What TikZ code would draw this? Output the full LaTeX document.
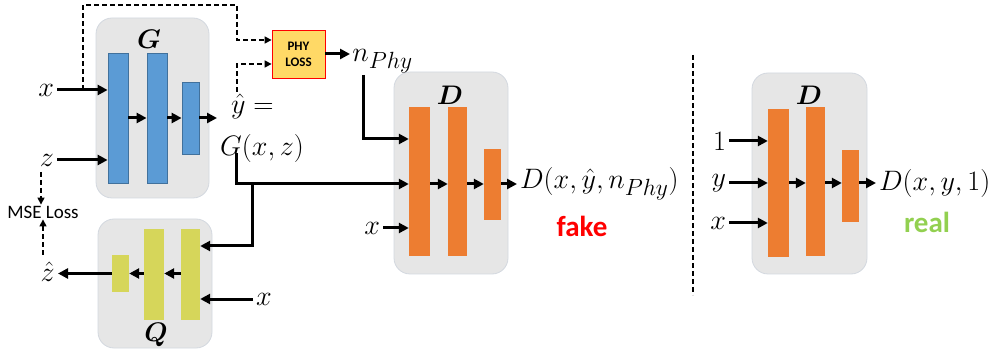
\documentclass[tikz,border=0pt]{standalone}
\usepackage{fontspec}
\usepackage{amsmath}
\newfontfamily\calib{Carlito}
\usetikzlibrary{arrows.meta}
\definecolor{gblue}{HTML}{5B9BD5}
\definecolor{gblueD}{HTML}{41719C}
\definecolor{dorange}{HTML}{ED7D31}
\definecolor{qyellow}{HTML}{D6D65A}
\definecolor{panelgray}{HTML}{E6E6E6}
\definecolor{paneledge}{HTML}{D3D8DF}
\definecolor{phyfill}{HTML}{FFD966}
\definecolor{realgreen}{HTML}{92D050}
\begin{document}
\begin{tikzpicture}[x=1pt,y=-1pt,
  panel/.style={draw=paneledge, fill=panelgray, rounded corners=16pt, line width=0.8pt, inner sep=0pt},
  barsz/.style 2 args={inner sep=0pt, minimum width=#1, minimum height=#2},
  gbar/.style 2 args={barsz={#1}{#2}, fill=gblue, draw=gblueD, line width=0.8pt},
  dbar/.style 2 args={barsz={#1}{#2}, fill=dorange, draw=none},
  qbar/.style 2 args={barsz={#1}{#2}, fill=qyellow, draw=none},
  arr/.style={line width=3pt, -{Triangle[length=10pt,width=10pt]}},
  dsh/.style={line width=1.5pt, dash pattern=on 5pt off 3pt, -{Triangle[length=7pt,width=7pt]}},
  mathlbl/.style={font=\fontsize{24.88}{30}\selectfont, scale=1.13, inner sep=2.5pt},
  ttl/.style={font=\fontsize{24.88}{30}\selectfont, scale=1.08, inner sep=0pt},
  calibtxt/.style={font=\calib\fontsize{19}{22}\selectfont, inner sep=1pt},
  tagtxt/.style={font=\calib\bfseries\fontsize{29}{32}\selectfont, inner sep=0pt},
]
\useasboundingbox (0,0) rectangle (1000,352);

% ---------- panels ----------
\node[panel, minimum width=113pt, minimum height=180pt] (gbox) at (152.5,108) {};
\node[panel, minimum width=114pt, minimum height=129pt] (qbox) at (155,283.5) {};
\node[panel, minimum width=114pt, minimum height=202pt] (dbox) at (451,173) {};
\node[panel, minimum width=115pt, minimum height=201pt] (ebox) at (809.5,173.5) {};

\node[ttl] (gl) at (149,39) {$\boldsymbol{G}$};
\node[ttl] (ql) at (156,335) {$\boldsymbol{Q}$};
\node[ttl] (dl) at (450,95) {$\boldsymbol{D}$};
\node[ttl] (el) at (809,95) {$\boldsymbol{D}$};

% ---------- bars ----------
\node[gbar={20pt}{130pt}] (g1) at (118,118) {};
\node[gbar={20pt}{130pt}] (g2) at (157,118) {};
\node[gbar={17pt}{72pt}] (g3) at (190.5,118) {};

\node[qbar={19pt}{91pt}] (q1) at (190.5,274.5) {};
\node[qbar={20pt}{91pt}] (q2) at (154,274.5) {};
\node[qbar={17pt}{37pt}] (q3) at (120.5,273.5) {};

\node[dbar={21pt}{149pt}] (d1) at (419.5,182) {};
\node[dbar={19pt}{149pt}] (d2) at (457.5,182) {};
\node[dbar={17pt}{71pt}] (d3) at (492.5,184.5) {};

\node[dbar={21pt}{148pt}] (e1) at (778.5,183) {};
\node[dbar={19pt}{149pt}] (e2) at (815.5,181.5) {};
\node[dbar={17pt}{72pt}] (e3) at (850.5,186) {};

% ---------- G ----------
\node[mathlbl, anchor=east] (xg) at (57,90) {$x$};
\node[mathlbl, anchor=east] (zg) at (57,160) {$z$};
\draw[arr] (xg.east) -- (xg.east -| g1.west);
\draw[arr] (zg.east) -- (zg.east -| g1.west);
\draw[arr] (g1.east) -- (g2.west);
\draw[arr] (g2.east) -- (g3.west);
\coordinate (gout) at (217,118);
\draw[arr] (g3.east) -- (gout);

\node[mathlbl, anchor=west, inner sep=0pt] (yh) at (231,106) {$\hat{y} =$};
\node[mathlbl, anchor=west, inner sep=0pt] (gxz) at (220,148) {$G(x,z)$};

% ---------- PHY loss ----------
\node[draw=red, fill=phyfill, line width=0.8pt, minimum width=53pt, minimum height=48pt,
      align=center, inner sep=0pt, font=\calib\bfseries\fontsize{13}{16}\selectfont] (phy) at (298.5,54) {PHY\\LOSS};
\node[mathlbl, anchor=base west, inner sep=2pt] (nphy) at (350,62) {$n_{Phy}$};
\draw[arr] (phy.east) -- (phy.east -| nphy.west);

\coordinate (xs) at (83,90);
\draw[dsh] (xs) |- (237,5) |- (phy.west |- 0,40);
\coordinate (ys) at (237,92);
\draw[dsh] (ys) |- (phy.west |- 0,64);

% ---------- MSE ----------
\node[calibtxt] (mse) at (43,212) {MSE Loss};
\node[mathlbl, anchor=east, inner sep=0pt] (zh) at (55,272) {$\hat{z}$};
\draw[dsh] (41,172) -- (mse.north -| 41,0);
\draw[dsh] (43,255) -- (mse.south -| 43,0);

% ---------- Q ----------
\draw[arr] (q3.west) -- (q3.west -| 58,0);
\draw[arr] (q1.west |- 0,273.5) -- (q2.east |- 0,273.5);
\draw[arr] (q2.west |- 0,273.5) -- (q3.east);
\node[mathlbl, anchor=west] (xq) at (253,299) {$x$};
\draw[arr] (xq.west) -- (xq.west -| q1.east);

% ---------- D (fake) ----------
\coordinate (s1) at (236,153);
\draw[arr] (s1) |- (d1.west |- 0,184);
\coordinate (br) at (252,184);
\draw[arr] (br) |- (q1.east |- 0,246);
\coordinate (np) at (363,75);
\draw[arr] (np) |- (d1.west |- 0,139);
\node[mathlbl, anchor=east] (xd) at (383,228) {$x$};
\draw[arr] (xd.east) -- (xd.east -| d1.west);
\draw[arr] (d1.east |- 0,184) -- (d2.west |- 0,184);
\draw[arr] (d2.east |- 0,184) -- (d3.west |- 0,184);
\node[mathlbl, anchor=west] (dout) at (517,184) {$D(x,\hat{y},n_{Phy})$};
\draw[arr] (d3.east |- 0,184) -- (dout.west);
\node[tagtxt, text=red] (fake) at (582,226) {fake};

% ---------- divider ----------
\draw[line width=1.5pt, dash pattern=on 5pt off 3pt] (693,55) -- (693,295);

% ---------- D (real) ----------
\node[mathlbl, anchor=east] (one) at (729,141) {$1$};
\node[mathlbl, anchor=east] (ye) at (729,183) {$y$};
\node[mathlbl, anchor=east] (xe) at (729,223) {$x$};
\draw[arr] (one.east) -- (one.east -| e1.west);
\draw[arr] (ye.east) -- (ye.east -| e1.west);
\draw[arr] (xe.east) -- (xe.east -| e1.west);
\draw[arr] (e1.east |- 0,183) -- (e2.west |- 0,183);
\draw[arr] (e2.east |- 0,183) -- (e3.west |- 0,183);
\node[mathlbl, anchor=west] (eout) at (876,183) {$D(x,y,1)$};
\draw[arr] (e3.east |- 0,183) -- (eout.west);
\node[tagtxt, text=realgreen] (real) at (927,222) {real};
\end{tikzpicture}
\end{document}
